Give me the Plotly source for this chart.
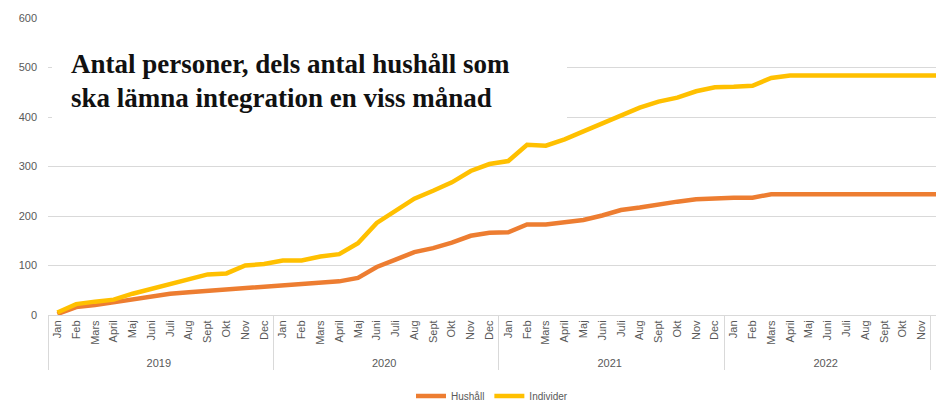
import plotly.graph_objects as go

years = ["2019", "2020", "2021", "2022"]
months = ["Jan", "Feb", "Mars", "April", "Maj", "Juni", "Juli", "Aug", "Sept", "Okt", "Nov", "Dec"]

hushall = [2, 16, 20, 26, 33, 39, 43, 46, 49, 51, 55, 57,
           61, 62, 65, 68, 75, 97, 112, 127, 135, 146, 160, 166,
           167, 183, 183, 187, 192, 201, 212, 217, 224, 229, 234, 236,
           237, 237, 244, 244, 244, 244, 244, 244, 244, 244, 244, 244]
individer = [5, 22, 27, 31, 43, 53, 63, 72, 82, 84, 100, 103,
             110, 110, 118, 123, 145, 186, 210, 235, 251, 268, 291, 305,
             311, 344, 342, 355, 371, 387, 402, 419, 431, 439, 452, 460,
             461, 463, 479, 484, 484, 484, 484, 484, 484, 484, 484, 484]

x_year = [y for y in years for m in months]
x_month = [m for y in years for m in months]

title_lines = ["Antal personer, dels antal hushåll som",
               "ska lämna integration en viss månad"]

fig = go.Figure()
fig.add_trace(go.Scatter(x=[x_year, x_month], y=hushall, name="Hushåll", mode="lines",
                         line=dict(color="#ED7D31", width=4.5)))
fig.add_trace(go.Scatter(x=[x_year, x_month], y=individer, name="Individer", mode="lines",
                         line=dict(color="#FFC000", width=4.5)))

L, R, T, B = 48, 0, 18, 89
W, H = 936, 404
pw = W - L - R
ph = H - T - B

def px_x(p):
    return (p - L) / pw

def px_y(p):
    return (H - B - p) / ph

fig.add_shape(type="rect", xref="paper", yref="paper",
              x0=px_x(52), x1=px_x(567), y0=px_y(130), y1=px_y(26),
              fillcolor="white", line=dict(width=0), layer="above")
for line_text, ymid in zip(title_lines, [64, 98]):
    fig.add_annotation(text="<b>" + line_text + "</b>", xref="paper", yref="paper",
                       x=px_x(69), y=px_y(ymid), xanchor="left", yanchor="middle",
                       align="left", showarrow=False,
                       font=dict(family="Liberation Serif", size=27, color="#111111"))

fig.update_layout(
    width=W, height=H,
    margin=dict(l=L, r=R, t=T, b=B, autoexpand=False),
    paper_bgcolor="white", plot_bgcolor="white",
    font=dict(family="Liberation Sans", size=11, color="#595959"),
    showlegend=True,
    legend=dict(orientation="h", x=0.5, xanchor="center", y=px_y(396), yanchor="middle",
                font=dict(size=10, color="#595959"), itemwidth=30),
    xaxis=dict(type="multicategory", range=[-0.5, 46.77], tickangle=-90,
               showgrid=False, showline=True, linecolor="#d9d9d9", linewidth=1,
               showdividers=True, dividercolor="#d9d9d9", dividerwidth=1,
               tickfont=dict(size=11, color="#595959"), ticks="", automargin=False),
    yaxis=dict(range=[0, 600], dtick=100, showgrid=True, gridcolor="#d9d9d9", gridwidth=1,
               zeroline=False, showline=False, ticks="", ticklabelstandoff=10,
               tickfont=dict(size=11, color="#595959"), automargin=False),
)

fig.write_html("out.html", config={"displayModeBar": False},
               post_script="document.body.style.margin='0';document.body.style.overflow='hidden';")
